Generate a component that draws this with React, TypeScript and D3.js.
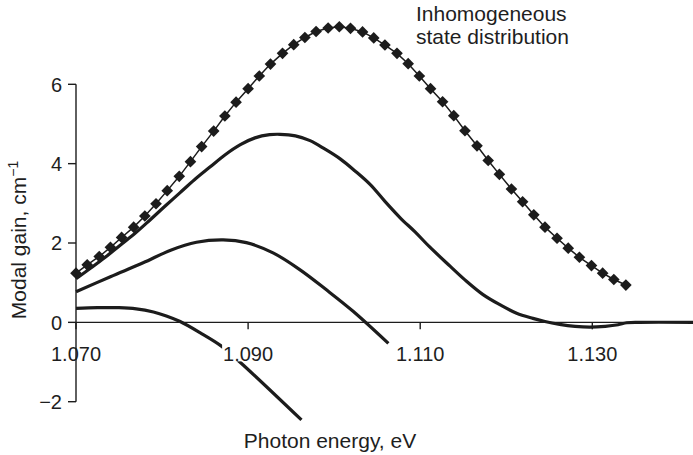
import React from "react";
import * as d3 from "d3";

// Inhomogeneous state distribution (diamond markers)
const energyD = [
  1.0700, 1.0713, 1.0727, 1.0740, 1.0753, 1.0767, 1.0780, 1.0793, 1.0806, 1.0820,
  1.0833, 1.0846, 1.0860, 1.0873, 1.0886, 1.0900, 1.0913, 1.0926, 1.0940, 1.0953,
  1.0966, 1.0979, 1.0993, 1.1006, 1.1019, 1.1033, 1.1046, 1.1059, 1.1073, 1.1086,
  1.1099, 1.1112, 1.1126, 1.1139, 1.1152, 1.1166, 1.1179, 1.1192, 1.1206, 1.1219,
  1.1232, 1.1245, 1.1259, 1.1272, 1.1285, 1.1299, 1.1312, 1.1325, 1.1339,
];
const gainD = [
  1.24, 1.45, 1.66, 1.89, 2.14, 2.40, 2.68, 2.99, 3.32, 3.68,
  4.05, 4.43, 4.82, 5.20, 5.55, 5.89, 6.21, 6.51, 6.78, 7.00,
  7.18, 7.33, 7.42, 7.45, 7.41, 7.32, 7.17, 6.99, 6.78, 6.52,
  6.21, 5.89, 5.56, 5.21, 4.83, 4.45, 4.08, 3.73, 3.36, 3.04,
  2.71, 2.40, 2.12, 1.87, 1.64, 1.43, 1.24, 1.08, 0.94,
];

// Upper solid curve
const energyA = [
  1.0700, 1.0716, 1.0734, 1.0751, 1.0769, 1.0786, 1.0803, 1.0821, 1.0838, 1.0856,
  1.0873, 1.0891, 1.0908, 1.0925, 1.0937, 1.0955, 1.0972, 1.0989, 1.1007, 1.1024,
  1.1042, 1.1059, 1.1077, 1.1094, 1.1111, 1.1135, 1.1152, 1.1173, 1.1193, 1.1212,
  1.1231, 1.1245, 1.1262, 1.1280, 1.1297, 1.1315, 1.1330, 1.1340, 1.1355, 1.1417,
];
const gainA = [
  1.10, 1.35, 1.64, 1.94, 2.25, 2.58, 2.92, 3.27, 3.60, 3.92,
  4.22, 4.48, 4.65, 4.73, 4.74, 4.70, 4.58, 4.37, 4.12, 3.82,
  3.47, 3.05, 2.63, 2.28, 1.90, 1.41, 1.07, 0.70, 0.44, 0.23,
  0.10, 0.02, -0.05, -0.10, -0.12, -0.10, -0.06, -0.01, 0.0, 0.0,
];

// Middle solid curve
const energyB = [1.0700, 1.0740, 1.0778, 1.0810, 1.0840, 1.0871, 1.0898, 1.0929, 1.0960, 1.0991, 1.1022, 1.1063];
const gainB = [0.77, 1.15, 1.50, 1.82, 2.02, 2.08, 2.01, 1.75, 1.33, 0.82, 0.28, -0.53];

// Lower solid curve
const energyC = [1.0700, 1.0725, 1.0750, 1.0770, 1.0790, 1.0805, 1.0821, 1.0844, 1.0869, 1.0892, 1.0962];
const gainC = [0.35, 0.37, 0.37, 0.34, 0.26, 0.16, 0.02, -0.26, -0.60, -1.03, -2.46];

const xTicks = [1.07, 1.09, 1.11, 1.13];
const xTickLabels = ["1.070", "1.090", "1.110", "1.130"];
const yTicks = [-2, 0, 2, 4, 6];
const yTickLabels = ["\u22122", "0", "2", "4", "6"];

const W = 693;
const H = 455;

export default function App() {
  const x = d3.scaleLinear().domain([1.07, 1.1417]).range([76, 693]);
  const y = d3.scaleLinear().domain([-2, 6]).range([401.7, 84.3]);

  const smooth = d3
    .line<[number, number]>()
    .x((d) => x(d[0]))
    .y((d) => y(d[1]))
    .curve(d3.curveCatmullRom.alpha(0.5));
  const straight = d3
    .line<[number, number]>()
    .x((d) => x(d[0]))
    .y((d) => y(d[1]));

  const zip = (a: number[], b: number[]) => a.map((v, i) => [v, b[i]] as [number, number]);
  const dA = zip(energyA, gainA);
  const dB = zip(energyB, gainB);
  const dC = zip(energyC, gainC);
  const dD = zip(energyD, gainD);

  const diamond = d3.symbol().type(d3.symbolSquare).size(68)();
  const ink = "#1c1c1c";
  const font = "'Liberation Sans', Arial, Helvetica, sans-serif";

  const x0 = x(1.07);
  const yZero = y(0);

  return (
    <svg
      width={W}
      height={H}
      style={{ position: "fixed", left: 0, top: 0, background: "#fff" }}
      fontFamily={font}
    >
      <rect x={0} y={0} width={W} height={H} fill="#fff" />
      {/* curves */}
      <path d={smooth(dA) || ""} fill="none" stroke={ink} strokeWidth={3.2} strokeLinejoin="round" />
      <path d={smooth(dB) || ""} fill="none" stroke={ink} strokeWidth={3.2} strokeLinejoin="round" />
      <path d={smooth(dC) || ""} fill="none" stroke={ink} strokeWidth={3.2} strokeLinejoin="round" />
      <path d={straight(dD) || ""} fill="none" stroke={ink} strokeWidth={1.5} />
      {dD.map((d, i) => (
        <path
          key={i}
          d={diamond || ""}
          transform={`translate(${x(d[0])},${y(d[1])}) rotate(45)`}
          fill={ink}
        />
      ))}

      {/* x tick labels with white background */}
      {xTicks.map((t, i) => (
        <g key={i}>
          <rect x={x(t) - 26} y={yZero + 20} width={52} height={19} fill="#fff" />
          <text
            x={x(t)}
            y={yZero + 39}
            textAnchor="middle"
            fontSize={20}
            fill="#1e1e1e"
          >
            {xTickLabels[i]}
          </text>
        </g>
      ))}

      {/* axes */}
      <line x1={x0} x2={W} y1={yZero} y2={yZero} stroke={ink} strokeWidth={1.4} />
      <line x1={x0} x2={x0} y1={y(6)} y2={y(-2)} stroke={ink} strokeWidth={1.4} />
      {xTicks.map((t, i) => (
        <line key={i} x1={x(t)} x2={x(t)} y1={yZero} y2={yZero + 7} stroke={ink} strokeWidth={1.4} />
      ))}
      {yTicks.map((t, i) => (
        <g key={i}>
          <line x1={x0 - 8} x2={x0} y1={y(t)} y2={y(t)} stroke={ink} strokeWidth={1.4} />
          <text x={x0 - 14} y={y(t)} dy="0.36em" textAnchor="end" fontSize={20} fill="#1e1e1e">
            {yTickLabels[i]}
          </text>
        </g>
      ))}

      {/* axis titles */}
      <text
        transform={`translate(26,${(y(6) + y(-2)) / 2 - 3}) rotate(-90)`}
        textAnchor="middle"
        fontSize={21}
        fill="#1e1e1e"
      >
        Modal gain, cm
        <tspan dy={-8} fontSize={14}>{"\u22121"}</tspan>
      </text>
      <text x={330} y={448} textAnchor="middle" fontSize={21} fill="#1e1e1e">
        Photon energy, eV
      </text>

      {/* annotation */}
      <text x={416} y={20.5} fontSize={21} fill="#1e1e1e">
        Inhomogeneous
      </text>
      <text x={416} y={44} fontSize={21} fill="#1e1e1e">
        state distribution
      </text>
    </svg>
  );
}
